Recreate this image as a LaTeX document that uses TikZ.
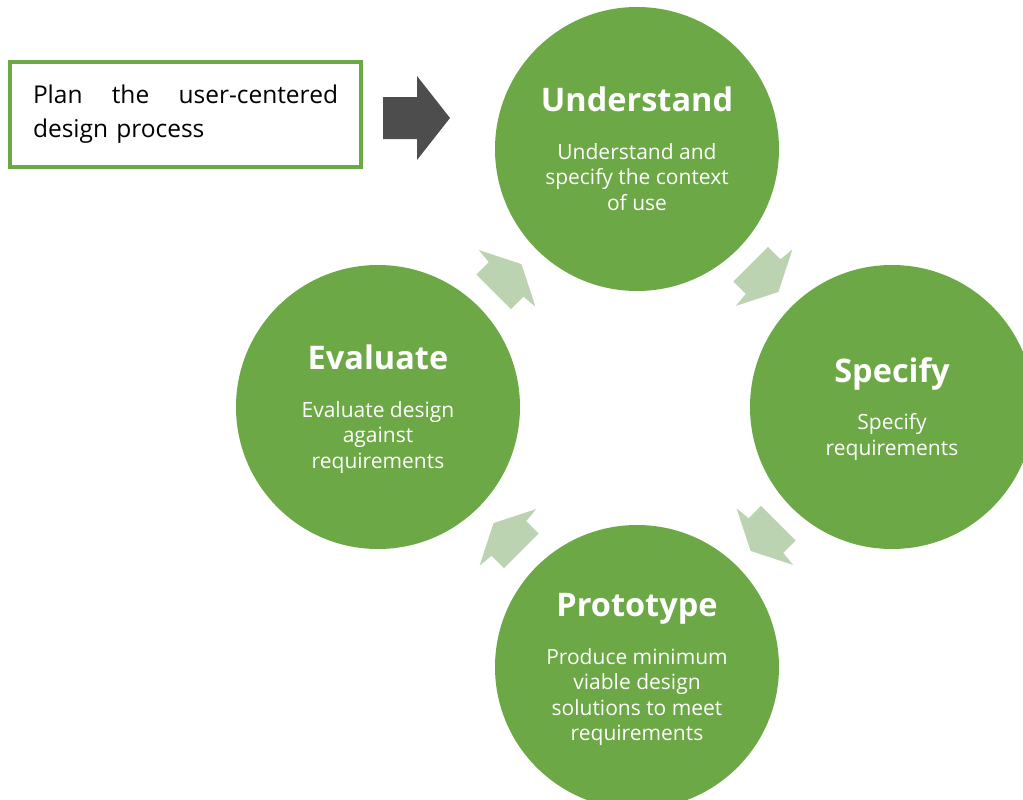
\documentclass[tikz,border=0pt]{standalone}
\usepackage{fontspec}
\setmainfont{Open Sans}
\usetikzlibrary{calc}

\definecolor{ucdgreen}{HTML}{6CA845}
\definecolor{ucdlight}{HTML}{BCD3B2}
\definecolor{ucddark}{HTML}{4D4D4D}

\tikzset{
  phase/.style={circle, fill=ucdgreen, minimum size=284pt, inner sep=0pt},
  phasetitle/.style={anchor=base, text=white, inner sep=0pt,
    font=\fontsize{32.5}{38}\selectfont\bfseries},
  % multi-line bodies: the base anchor sits on the last line
  phasebody/.style={anchor=base, text=white, inner sep=0pt, align=center,
    font=\fontsize{21}{25.5}\selectfont},
  planbox/.style={draw=ucdgreen, line width=4pt, fill=white,
    minimum width=351pt, minimum height=105pt, text width=305pt,
    align=left, inner sep=0pt, font=\fontsize{24.5}{34}\selectfont},
  cyclearrow/.pic={
    \fill[ucdlight] (19.7,0) -- (-0.5,40) -- (-2,24.5) -- (-19.6,24.5)
      -- (-19.6,-24.5) -- (-2,-24.5) -- (-0.5,-40) -- cycle;
  }
}

\begin{document}
\begin{tikzpicture}[x=1pt, y=-1pt]
  \useasboundingbox (0,0) rectangle (1023,800);
  \clip (0,0) rectangle (1023,800);

  % the four phases of the cycle
  \node[phase] (und) at (637,149) {};
  \node[phase] (spe) at (892,407) {};
  \node[phase] (pro) at (637,667) {};
  \node[phase] (eva) at (378,407) {};

  % titles and descriptions
  \node[phasetitle] (undT) at ([yshift=37.75pt]und.center) {Understand};
  \node[phasebody]  (undB) at ([yshift=-61.25pt]und.center)
    {Understand and\\specify the context\\of use};

  \node[phasetitle] (speT) at ([yshift=25pt]spe.center) {Specify};
  \node[phasebody]  (speB) at ([yshift=-48pt]spe.center)
    {Specify\\requirements};

  \node[phasetitle] (proT) at ([yshift=50.5pt]pro.center) {Prototype};
  \node[phasebody]  (proB) at ([yshift=-73.5pt]pro.center)
    {Produce minimum\\viable design\\solutions to meet\\requirements};

  \node[phasetitle] (evaT) at ([yshift=37.75pt]eva.center) {Evaluate};
  \node[phasebody]  (evaB) at ([yshift=-61.25pt]eva.center)
    {Evaluate design\\against\\requirements};

  % arrows between the phases
  \pic[rotate=45]   at ($(eva)!0.5!(und)$) {cyclearrow};
  \pic[rotate=-45]  at ($(und)!0.5!(spe)$) {cyclearrow};
  \pic[rotate=-135] at ($(spe)!0.5!(pro)$) {cyclearrow};
  \pic[rotate=135]  at ($(pro)!0.5!(eva)$) {cyclearrow};

  % planning step that leads into the cycle
  \node[planbox] (plan) at (185.5,114.5)
    {Plan\hfill the\hfill user-centered\\design process};
  \coordinate (entry) at ([xshift=20pt]plan.east);
  \fill[ucddark] (entry) ++(0,-17.5) -- ++(34,0) -- ++(0,-21)
    -- ++(33,42) -- ++(-33,42) -- ++(0,-21) -- ++(-34,0) -- cycle;
\end{tikzpicture}
\end{document}
